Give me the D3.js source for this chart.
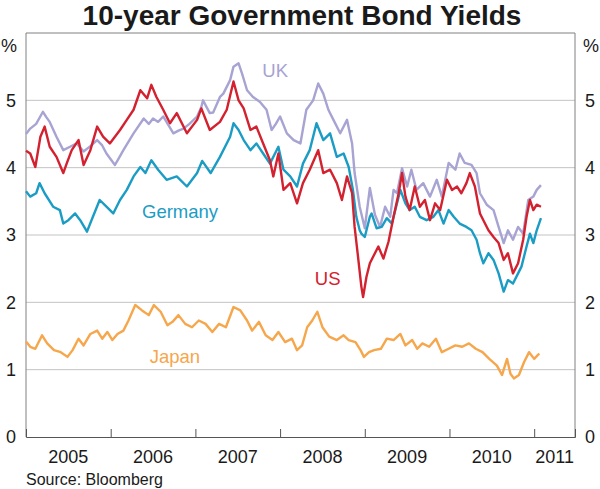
<!DOCTYPE html>
<html>
<head>
<meta charset="utf-8">
<script src="https://cdn.jsdelivr.net/npm/d3@7"></script>
<style>
  html, body { margin: 0; padding: 0; background: #fff; }
  svg { display: block; font-family: "Liberation Sans", Arial, Helvetica, sans-serif; }
</style>
</head>
<body>
<svg id="chart" width="600" height="489"></svg>
<script>
// ---- Data (decimal year, yield %) ----
const yearLabels = [2005, 2006, 2007, 2008, 2009, 2010, 2011];
const yTickValues = [0, 1, 2, 3, 4, 5];

const ukData = [
  [2005.00,4.50],[2005.05,4.58],[2005.12,4.65],[2005.20,4.83],[2005.24,4.75],[2005.28,4.68],[2005.36,4.46],
  [2005.44,4.26],[2005.52,4.31],[2005.60,4.36],[2005.68,4.24],[2005.76,4.32],[2005.84,4.41],[2005.90,4.33],
  [2005.95,4.21],[2006.05,4.04],[2006.10,4.15],[2006.15,4.26],[2006.27,4.51],[2006.39,4.73],[2006.45,4.65],
  [2006.50,4.73],[2006.56,4.68],[2006.62,4.76],[2006.74,4.51],[2006.80,4.55],[2006.86,4.58],[2006.93,4.65],
  [2007.02,4.76],[2007.07,4.90],[2007.09,5.00],[2007.17,4.81],[2007.21,4.82],[2007.29,5.05],[2007.33,5.10],
  [2007.41,5.30],[2007.45,5.50],[2007.51,5.55],[2007.55,5.40],[2007.61,5.15],[2007.68,5.05],[2007.76,4.98],
  [2007.84,4.86],[2007.90,4.56],[2007.95,4.65],[2008.00,4.76],[2008.08,4.51],[2008.16,4.41],[2008.24,4.36],
  [2008.31,4.86],[2008.39,5.00],[2008.45,5.25],[2008.51,5.10],[2008.57,4.86],[2008.63,4.71],[2008.71,4.51],
  [2008.79,4.71],[2008.85,4.36],[2008.88,3.92],[2008.94,3.42],[2009.00,3.10],[2009.06,3.70],[2009.12,3.30],
  [2009.18,3.12],[2009.24,3.42],[2009.30,3.27],[2009.34,3.67],[2009.38,3.62],[2009.44,3.99],[2009.50,3.72],
  [2009.55,3.97],[2009.61,3.67],[2009.69,3.77],[2009.77,3.57],[2009.85,3.82],[2009.91,3.57],[2009.99,4.07],
  [2010.07,3.97],[2010.12,4.21],[2010.18,4.07],[2010.26,4.04],[2010.32,3.92],[2010.36,3.62],[2010.44,3.45],
  [2010.52,3.37],[2010.58,3.12],[2010.64,2.88],[2010.69,3.07],[2010.75,2.93],[2010.81,3.12],[2010.87,3.02],
  [2010.93,3.52],[2010.99,3.57],[2011.03,3.67],[2011.08,3.74]
];

const usData = [
  [2005.00,4.25],[2005.05,4.21],[2005.11,4.01],[2005.17,4.46],[2005.22,4.61],[2005.28,4.31],[2005.36,4.16],
  [2005.44,3.92],[2005.48,4.06],[2005.54,4.26],[2005.62,4.41],[2005.68,4.04],[2005.76,4.26],[2005.84,4.61],
  [2005.91,4.46],[2005.99,4.36],[2006.11,4.56],[2006.19,4.71],[2006.27,4.86],[2006.35,5.15],[2006.43,5.03],
  [2006.48,5.23],[2006.54,5.05],[2006.62,4.86],[2006.70,4.66],[2006.78,4.81],[2006.90,4.51],[2007.02,4.71],
  [2007.07,4.88],[2007.17,4.56],[2007.29,4.68],[2007.37,4.86],[2007.45,5.28],[2007.51,5.00],[2007.57,4.88],
  [2007.65,4.56],[2007.72,4.61],[2007.80,4.36],[2007.88,4.11],[2007.92,3.87],[2007.98,4.21],[2008.04,3.67],
  [2008.12,3.77],[2008.20,3.47],[2008.27,3.77],[2008.35,3.97],[2008.45,4.26],[2008.51,3.92],[2008.59,3.97],
  [2008.67,3.77],[2008.73,3.52],[2008.79,3.87],[2008.85,3.62],[2008.88,3.12],[2008.92,2.68],[2008.96,2.23],
  [2008.98,2.08],[2009.02,2.38],[2009.06,2.58],[2009.10,2.68],[2009.16,2.83],[2009.22,2.65],[2009.28,2.90],
  [2009.34,3.27],[2009.40,3.62],[2009.44,3.92],[2009.48,3.57],[2009.53,3.37],[2009.59,3.72],[2009.65,3.42],
  [2009.71,3.52],[2009.77,3.22],[2009.83,3.47],[2009.89,3.37],[2009.97,3.82],[2010.03,3.67],[2010.09,3.72],
  [2010.14,3.62],[2010.20,3.77],[2010.24,3.92],[2010.30,3.72],[2010.36,3.32],[2010.40,3.22],[2010.46,3.07],
  [2010.52,2.97],[2010.58,2.88],[2010.64,2.63],[2010.69,2.73],[2010.75,2.43],[2010.81,2.58],[2010.87,2.93],
  [2010.91,3.27],[2010.95,3.52],[2010.99,3.37],[2011.03,3.45],[2011.08,3.42]
];

const germanyData = [
  [2005.00,3.65],[2005.05,3.57],[2005.12,3.62],[2005.16,3.77],[2005.22,3.62],[2005.32,3.42],[2005.40,3.37],
  [2005.44,3.17],[2005.50,3.22],[2005.58,3.32],[2005.64,3.22],[2005.72,3.05],[2005.79,3.27],[2005.87,3.52],
  [2005.95,3.42],[2006.03,3.32],[2006.11,3.52],[2006.19,3.67],[2006.27,3.87],[2006.35,4.01],[2006.41,3.92],
  [2006.48,4.11],[2006.56,3.97],[2006.66,3.82],[2006.78,3.87],[2006.90,3.72],[2007.02,3.92],[2007.08,4.10],
  [2007.18,3.92],[2007.29,4.16],[2007.41,4.46],[2007.45,4.66],[2007.51,4.56],[2007.57,4.41],[2007.65,4.26],
  [2007.72,4.36],[2007.80,4.21],[2007.88,4.06],[2007.98,4.31],[2008.04,3.97],[2008.12,3.87],[2008.20,3.72],
  [2008.27,4.06],[2008.35,4.26],[2008.43,4.66],[2008.51,4.41],[2008.59,4.51],[2008.67,4.16],[2008.75,4.21],
  [2008.81,4.01],[2008.86,3.67],[2008.90,3.27],[2008.94,3.07],[2008.96,3.02],[2009.00,2.97],[2009.06,3.27],
  [2009.08,3.32],[2009.14,3.10],[2009.20,3.12],[2009.26,3.25],[2009.32,3.17],[2009.38,3.47],[2009.42,3.67],
  [2009.48,3.47],[2009.53,3.37],[2009.59,3.42],[2009.65,3.27],[2009.73,3.22],[2009.81,3.27],[2009.87,3.37],
  [2009.93,3.17],[2009.99,3.37],[2010.05,3.27],[2010.12,3.17],[2010.20,3.12],[2010.26,3.07],[2010.32,2.93],
  [2010.36,2.73],[2010.40,2.58],[2010.46,2.73],[2010.52,2.63],[2010.58,2.43],[2010.64,2.16],[2010.69,2.33],
  [2010.75,2.28],[2010.81,2.43],[2010.85,2.53],[2010.91,2.83],[2010.95,3.02],[2010.99,2.88],[2011.03,3.07],
  [2011.08,3.25]
];

const japanData = [
  [2005.00,1.42],[2005.05,1.34],[2005.11,1.31],[2005.19,1.51],[2005.25,1.39],[2005.33,1.29],[2005.41,1.26],
  [2005.49,1.19],[2005.55,1.29],[2005.62,1.46],[2005.68,1.36],[2005.76,1.53],[2005.84,1.58],[2005.90,1.46],
  [2005.96,1.56],[2006.02,1.44],[2006.08,1.53],[2006.15,1.58],[2006.21,1.73],[2006.29,1.96],[2006.37,1.88],
  [2006.45,1.81],[2006.51,1.96],[2006.59,1.86],[2006.67,1.66],[2006.73,1.71],[2006.80,1.81],[2006.88,1.68],
  [2006.96,1.63],[2007.04,1.73],[2007.12,1.68],[2007.20,1.56],[2007.28,1.68],[2007.36,1.63],[2007.45,1.93],
  [2007.53,1.88],[2007.61,1.73],[2007.67,1.58],[2007.75,1.71],[2007.83,1.51],[2007.91,1.44],[2007.98,1.56],
  [2008.06,1.41],[2008.14,1.46],[2008.20,1.29],[2008.26,1.36],[2008.32,1.63],[2008.38,1.73],[2008.44,1.86],
  [2008.50,1.63],[2008.58,1.49],[2008.67,1.44],[2008.75,1.51],[2008.81,1.44],[2008.89,1.41],[2008.95,1.29],
  [2008.99,1.19],[2009.05,1.26],[2009.11,1.29],[2009.19,1.31],[2009.26,1.46],[2009.34,1.44],[2009.42,1.53],
  [2009.48,1.36],[2009.56,1.44],[2009.62,1.31],[2009.68,1.39],[2009.76,1.34],[2009.84,1.46],[2009.91,1.26],
  [2009.99,1.31],[2010.07,1.36],[2010.15,1.34],[2010.23,1.39],[2010.31,1.31],[2010.39,1.26],[2010.47,1.16],
  [2010.56,1.06],[2010.62,0.92],[2010.68,1.16],[2010.72,0.94],[2010.76,0.87],[2010.82,0.92],[2010.88,1.11],
  [2010.94,1.26],[2011.00,1.16],[2011.06,1.24]
];

const seriesNames = ["UK", "Germany", "US", "Japan"];
const seriesColors = ["#a7a3d3", "#1b9cc4", "#d3212f", "#f6a64b"];
const seriesData = [ukData, germanyData, usData, japanData];
// label anchor points (decimal year, value) for series labels
const labelPos = [[2007.79, 5.35], [2006.37, 3.25], [2008.41, 2.26], [2006.46, 1.105]];

// ---- Layout ----
const svg = d3.select("#chart");
const L = 26, R = 575, T = 33, B = 437;
const x = d3.scaleLinear().domain([2005, 2011.482]).range([L, R]);
const y = d3.scaleLinear().domain([0, 6]).range([B, T]);

// Title
svg.append("text").attr("x", 302).attr("y", 25).attr("text-anchor", "middle")
  .attr("font-size", 28).attr("font-weight", "bold").attr("fill", "#1a1a1a")
  .text("10-year Government Bond Yields");

// Gridlines
svg.append("g").selectAll("line").data(yTickValues.filter(v => v > 0)).join("line")
  .attr("x1", L).attr("x2", R).attr("y1", d => y(d)).attr("y2", d => y(d))
  .attr("stroke", "#c3c3c3").attr("stroke-width", 1);

// Frame
svg.append("path")
  .attr("d", `M${L},${B}V${T}H${R}V${B}`)
  .attr("fill", "none").attr("stroke", "#808080").attr("stroke-width", 1);

// X axis
const xAxis = d3.axisBottom(x).tickValues(yearLabels.slice(1)).tickSize(-8).tickFormat("");
const gx = svg.append("g").attr("transform", `translate(0,${B})`).call(xAxis);
gx.select(".domain").attr("stroke", "#555");
gx.selectAll(".tick line").attr("stroke", "#555");

// Year labels centered in each year
svg.append("g").selectAll("text").data(yearLabels).join("text")
  .attr("x", d => d === 2011 ? (x(2011) + x(2011.482)) / 2 : x(d + 0.5))
  .attr("y", 463).attr("text-anchor", "middle").attr("font-size", 18).attr("fill", "#1a1a1a")
  .text(d => d);

// Y labels both sides
const fmt = d3.format("d");
const yl = d3.axisLeft(y).tickValues(yTickValues).tickSize(0).tickPadding(10).tickFormat(fmt);
const gyl = svg.append("g").attr("transform", `translate(${L},0)`).call(yl);
gyl.select(".domain").remove();
gyl.selectAll("text").attr("font-size", 18).attr("fill", "#1a1a1a").attr("font-family", "Liberation Sans, Arial, sans-serif");
const yr = d3.axisRight(y).tickValues(yTickValues).tickSize(0).tickPadding(10).tickFormat(fmt);
const gyr = svg.append("g").attr("transform", `translate(${R},0)`).call(yr);
gyr.select(".domain").remove();
gyr.selectAll("text").attr("font-size", 18).attr("fill", "#1a1a1a").attr("font-family", "Liberation Sans, Arial, sans-serif");

svg.append("text").attr("x", 1).attr("y", 52).attr("font-size", 18).attr("fill", "#1a1a1a").text("%");
svg.append("text").attr("x", 583).attr("y", 52).attr("font-size", 18).attr("fill", "#1a1a1a").text("%");

// Lines
const line = d3.line().x(d => x(d[0])).y(d => y(d[1]));
svg.append("g").selectAll("path").data(seriesData).join("path")
  .attr("d", d => line(d)).attr("fill", "none")
  .attr("stroke", (d, i) => seriesColors[i]).attr("stroke-width", 2.4)
  .attr("stroke-linejoin", "round");

// Series labels
svg.append("g").selectAll("text").data(seriesNames).join("text")
  .attr("x", (d, i) => x(labelPos[i][0])).attr("y", (d, i) => y(labelPos[i][1]))
  .attr("font-size", 18.5).attr("fill", (d, i) => seriesColors[i])
  .text(d => d);

// Source
svg.append("text").attr("x", 26).attr("y", 485).attr("font-size", 16).attr("fill", "#1a1a1a")
  .text("Source: Bloomberg");
</script>
</body>
</html>
